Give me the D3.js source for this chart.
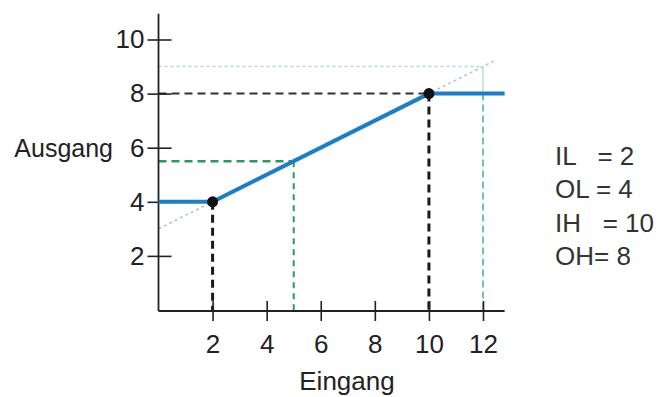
<!DOCTYPE html>
<html><head><meta charset="utf-8">
<script src="https://cdn.jsdelivr.net/npm/d3@7"></script>
<style>
html,body{margin:0;padding:0;background:#fff;}
svg{display:block;font-family:"Liberation Sans",Arial,sans-serif;}
</style></head>
<body>
<svg id="c" width="658" height="397"></svg>
<script>
// ---- data ----
const xTicks = [2, 4, 6, 8, 10, 12];
const yTicks = [2, 4, 6, 8, 10];
const transferX = [0, 2, 10, 12.8];
const transferY = [4, 4, 8, 8];
const knotX = [2, 10];
const knotY = [4, 8];
const extX = [0, 12.5];
const extY = [3, 9.25];
const sampleX = 5, sampleY = 5.5;      // green example
const overX = 12, overY = 9;            // extrapolated point
const legendLines = ["IL   = 2", "OL = 4", "IH   = 10", "OH= 8"];
const xTitle = "Eingang", yTitle = "Ausgang";

const svg = d3.select("#c");
const x = d3.scaleLinear().domain([0, 12]).range([158.5, 483]);
const y = d3.scaleLinear().domain([0, 10]).range([310, 39.5]);
const xMax = 12.8, yMax = 10.95;
const axisY = 311;

const line = d3.line().x(d => x(d[0])).y(d => y(d[1]));

// faint extrapolation guides
svg.append("path").datum(d3.zip(extX, extY)).attr("d", line)
  .attr("fill", "none").attr("stroke", "#a9c4d8").attr("stroke-width", 1.5).attr("stroke-dasharray", "3,3");
svg.append("path").datum([[0, overY], [overX, overY]]).attr("d", line)
  .attr("fill", "none").attr("stroke", "#a8dbe2").attr("stroke-width", 1.5).attr("stroke-dasharray", "3,3");
svg.append("path").datum([[overX, overY], [overX, knotY[1]]]).attr("d", line)
  .attr("fill", "none").attr("stroke", "#a8dbd0").attr("stroke-width", 1.2);
svg.append("path").datum([[overX, knotY[1]], [overX, 0]]).attr("d", line)
  .attr("fill", "none").attr("stroke", "#4db88f").attr("stroke-width", 1.6).attr("stroke-dasharray", "7,4");

// green sample
svg.append("path").datum([[0, sampleY], [sampleX, sampleY]]).attr("d", line)
  .attr("fill", "none").attr("stroke", "#2a9a5c").attr("stroke-width", 2.5).attr("stroke-dasharray", "8,5");
svg.append("path").datum([[sampleX, sampleY], [sampleX, 0]]).attr("d", line)
  .attr("fill", "none").attr("stroke", "#2a9a5c").attr("stroke-width", 2).attr("stroke-dasharray", "6,5");

// black guides
svg.append("path").datum([[0, knotY[1]], [knotX[1], knotY[1]]]).attr("d", line)
  .attr("fill", "none").attr("stroke", "#333").attr("stroke-width", 2).attr("stroke-dasharray", "8,5");
knotX.forEach((kx, i) => {
  svg.append("path").datum([[kx, knotY[i]], [kx, 0]]).attr("d", line)
    .attr("fill", "none").attr("stroke", "#1a1a1a").attr("stroke-width", 3).attr("stroke-dasharray", "8,5");
});

// axes
const gy = svg.append("g").attr("transform", `translate(${x(0)},0)`)
  .call(d3.axisLeft(y).tickValues(yTicks).tickSize(11).tickPadding(3).tickFormat(d3.format("d")));
gy.select(".domain").remove();
gy.selectAll(".tick line").attr("x1", 13).attr("x2", -11).attr("stroke", "#222").attr("stroke-width", 1.6);
gy.selectAll(".tick text").attr("font-size", 26).attr("fill", "#222").attr("font-family", "Liberation Sans, Arial, sans-serif");

const gx = svg.append("g").attr("transform", `translate(0,${axisY})`)
  .call(d3.axisBottom(x).tickValues(xTicks).tickSize(10).tickPadding(14).tickFormat(d3.format("d")));
gx.select(".domain").remove();
gx.selectAll(".tick line").attr("y1", -10).attr("y2", 10).attr("stroke", "#222").attr("stroke-width", 1.6);
gx.selectAll(".tick text").attr("font-size", 26).attr("fill", "#222").attr("font-family", "Liberation Sans, Arial, sans-serif");

svg.append("line").attr("x1", x(0)).attr("x2", x(0)).attr("y1", y(yMax)).attr("y2", axisY)
  .attr("stroke", "#222").attr("stroke-width", 1.8);
svg.append("line").attr("x1", x(0)).attr("x2", x(xMax)).attr("y1", axisY).attr("y2", axisY)
  .attr("stroke", "#222").attr("stroke-width", 1.8);

// transfer curve
svg.append("path").datum(d3.zip(transferX, transferY)).attr("d", line)
  .attr("fill", "none").attr("stroke", "#1c7fc6").attr("stroke-width", 4);
svg.selectAll("circle.knot").data(d3.zip(knotX, knotY)).join("circle")
  .attr("class", "knot").attr("cx", d => x(d[0])).attr("cy", d => y(d[1])).attr("r", 5.5).attr("fill", "#111");

// titles
svg.append("text").attr("x", 347).attr("y", 390).attr("text-anchor", "middle")
  .attr("font-size", 26).attr("fill", "#222").text(xTitle);
svg.append("text").attr("x", 113).attr("y", 157).attr("text-anchor", "end")
  .attr("font-size", 25).attr("fill", "#222").text(yTitle);

// legend
svg.append("g").selectAll("text").data(legendLines).join("text")
  .attr("x", 555).attr("y", (d, i) => 165 + i * 33.3)
  .attr("font-size", 26).attr("fill", "#333").attr("xml:space", "preserve")
  .style("white-space", "pre").text(d => d);
</script>
</body></html>
